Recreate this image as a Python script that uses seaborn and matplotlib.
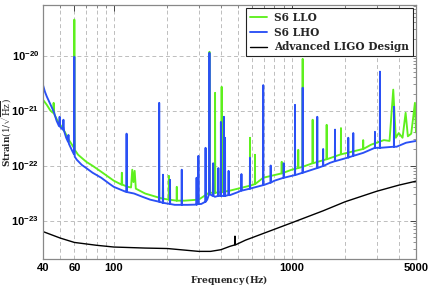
import numpy as np
import pandas as pd
import seaborn as sns
import matplotlib
matplotlib.use("Agg")
import matplotlib.pyplot as plt
from matplotlib.ticker import FixedLocator, NullFormatter, LogLocator

# -------------------------------
# Data
# -------------------------------
lho_freq = [40, 41, 42, 44, 46, 47.7, 49.2, 49.6, 50.0, 51.7, 52.1, 52.5, 54,
            55.3, 55.6, 55.9, 58, 59.7, 60.0, 60.3, 62, 66, 70, 76, 85, 95, 100,
            110, 117.6, 118, 118.4, 130, 145, 160, 179.5, 180, 180.5,
            188.5, 189, 189.5, 206.5, 207, 207.5, 220, 240.5, 241, 241.5, 260,
            291.5, 292, 292.5, 298.5, 299, 299.5, 310, 327.5, 328, 328.5, 335,
            343, 345, 347, 360, 362, 364, 370, 385, 387, 389, 399.5, 400, 401,
            415.5, 416, 417, 421.5, 422, 423, 440, 442, 444,
            450, 500, 520, 522, 524, 582, 583, 584, 600, 690, 692, 694, 760, 762, 764,
            800, 900, 902, 904, 1000,
            1042, 1044, 1046, 1151, 1153, 1155, 1200, 1390, 1393, 1396, 1500, 1503, 1506,
            1642, 1749, 1752, 1755, 2078, 2081, 2084, 2217, 2220, 2223, 2524,
            2935, 2939, 2943, 3130, 3135, 3140, 3755, 3760, 3765, 3891, 4400, 5000]
lho_strain = [2.9e-21, 2.2e-21, 1.8e-21, 1.3e-21, 9.5e-22, 6.5e-22, 5.2e-22, 7.7e-22, 5.0e-22,
              4.5e-22, 6.8e-22, 4.3e-22, 3.2e-22, 2.7e-22, 3.6e-22, 2.5e-22, 1.93e-22,
              1.6e-22, 9.5e-21, 1.45e-22, 1.27e-22, 1.03e-22, 9.0e-23, 7.4e-23, 6.0e-23,
              4.6e-23, 4.1e-23, 3.6e-23, 3.3e-23, 3.8e-22, 3.3e-23, 3.1e-23, 2.7e-23,
              2.4e-23, 2.2e-23, 1.38e-21, 2.2e-23, 2.1e-23, 6.8e-23, 2.1e-23,
              2.0e-23, 5.5e-23, 2.0e-23, 1.93e-23, 1.93e-23, 8.4e-23, 1.93e-23, 1.93e-23,
              1.95e-23, 6.0e-23, 1.95e-23, 2.0e-23, 1.5e-22, 2.0e-23, 2.0e-23,
              2.2e-23, 2.1e-22, 2.2e-23, 2.4e-23, 3.0e-23, 1.12e-20, 3.0e-23, 2.8e-23,
              1.1e-22, 2.8e-23, 2.7e-23, 2.8e-23, 9.0e-23, 2.8e-23,
              2.8e-23, 6.2e-22, 2.8e-23, 2.8e-23, 7.7e-22, 2.8e-23, 2.8e-23, 3.2e-22, 2.8e-23,
              2.9e-23, 8.0e-23, 2.9e-23,
              2.9e-23, 3.3e-23, 3.5e-23, 7.0e-23, 3.5e-23, 3.8e-23, 1.38e-22, 3.8e-23, 3.9e-23,
              4.4e-23, 2.9e-21, 4.4e-23, 4.9e-23, 1.0e-22, 4.9e-23,
              5.3e-23, 6.0e-23, 1.1e-22, 6.0e-23, 6.5e-23, 6.7e-23, 1.27e-21, 6.7e-23,
              7.4e-23, 2.6e-21, 7.4e-23,
              7.7e-23, 9.0e-23, 7.7e-22, 9.0e-23, 9.8e-23, 2.0e-22, 9.8e-23,
              1.12e-22, 1.2e-22, 4.5e-22, 1.2e-22,
              1.4e-22, 3.2e-22, 1.4e-22, 1.5e-22, 3.9e-22, 1.5e-22, 1.7e-22,
              2.1e-22, 4.1e-22, 2.1e-22, 2.1e-22, 5.1e-21, 2.1e-22, 2.2e-22, 1.17e-21, 2.2e-22,
              2.2e-22, 2.6e-22, 2.8e-22]

llo_freq = [40, 42, 44, 45.5, 45.9, 46.3, 48, 50, 53, 56, 59.7, 60.0, 60.3, 63, 70,
            76, 85, 100, 110.5, 111, 111.5, 120, 125, 127, 129, 131, 133, 150, 180,
            188.5, 189, 189.5, 203.5, 204, 204.5, 225.5, 226, 226.5, 250, 300,
            343, 345, 347, 370, 371, 372, 403, 404, 405, 450, 582, 583, 584,
            621, 622, 623, 692, 877, 879, 881, 1000, 1087, 1089, 1091,
            1151, 1153, 1155, 1309, 1312, 1315, 1570, 1573, 1576, 1890, 1893, 1896,
            2520, 2524, 2528, 2800, 3300, 3550, 3724, 3850, 4000, 4200, 4371, 4500,
            4700, 4932, 5000]
llo_strain = [1.57e-21, 1.27e-21, 1.0e-21, 9.1e-22, 1.38e-21, 8.5e-22, 6.8e-22, 5.5e-22,
              4.1e-22, 2.9e-22, 2.1e-22, 4.5e-20, 1.93e-22, 1.57e-22, 1.17e-22,
              9.9e-23, 7.7e-23, 5.3e-23, 4.5e-23, 7.4e-23, 4.5e-23, 4.1e-23, 4.0e-23,
              8.4e-23, 5.0e-23, 8.0e-23, 3.8e-23, 3.1e-23, 2.6e-23,
              2.5e-23, 6.8e-23, 2.5e-23, 2.4e-23, 6.5e-23, 2.4e-23, 2.3e-23, 4.1e-23, 2.3e-23,
              2.3e-23, 2.4e-23, 3.2e-23, 1.17e-20, 3.2e-23, 3.2e-23, 2.1e-21, 3.2e-23,
              3.3e-23, 2.7e-21, 3.3e-23, 3.5e-23, 4.3e-23, 3.2e-22, 4.3e-23,
              4.6e-23, 1.57e-22, 4.6e-23, 6.0e-23, 7.2e-23, 1.17e-22, 7.2e-23, 8.4e-23,
              9.0e-23, 1.93e-22, 9.0e-23, 9.5e-23, 8.7e-21, 9.5e-23, 1.1e-22, 6.8e-22, 1.1e-22,
              1.3e-22, 5.5e-22, 1.3e-22, 1.6e-22, 4.8e-22, 1.6e-22, 2.0e-22, 2.9e-22, 2.0e-22,
              2.4e-22, 2.9e-22, 2.8e-22, 2.4e-21, 3.2e-22, 3.9e-22, 3.2e-22, 9.1e-22, 3.4e-22,
              3.8e-22, 1.38e-21, 4.0e-22]

aligo_freq = [40, 50, 60, 80, 100, 150, 200, 300, 350, 400, 450, 478, 480, 482,
              550, 700, 1000, 1500, 2000, 3000, 4000, 5000]
aligo_strain = [6.3e-24, 4.8e-24, 4.0e-24, 3.55e-24, 3.3e-24, 3.16e-24, 3.1e-24, 2.75e-24,
                2.75e-24, 2.95e-24, 3.4e-24, 3.6e-24, 5.2e-24, 3.6e-24,
                4.4e-24, 5.9e-24, 9.1e-24, 1.5e-23, 2.2e-23, 3.4e-23, 4.4e-23, 5.2e-23]

labels = ["S6 LLO", "S6 LHO", "Advanced LIGO Design"]
colors = ["#5ef01e", "#2a50f5", "black"]

x_major = [40, 60, 100, 1000, 5000]
x_minor = [50, 70, 80, 90, 200, 300, 400, 500, 600, 700, 800, 900, 2000, 3000, 4000]
y_major = [1e-23, 1e-22, 1e-21, 1e-20]
y_labels = [r"$\mathbf{10^{-23}}$", r"$\mathbf{10^{-22}}$", r"$\mathbf{10^{-21}}$", r"$\mathbf{10^{-20}}$"]

# -------------------------------
# Style
# -------------------------------
sns.set_style("white")
plt.rcParams["mathtext.fontset"] = "custom"
plt.rcParams["mathtext.rm"] = "DejaVu Serif"
plt.rcParams["mathtext.it"] = "DejaVu Serif:italic"
plt.rcParams["mathtext.bf"] = "Liberation Sans:bold"

fig = plt.figure(figsize=(4.31, 2.87), dpi=100)
ax = fig.add_axes([0.0998, 0.0976, 0.8654, 0.885])

series = [(llo_freq, llo_strain), (lho_freq, lho_strain), (aligo_freq, aligo_strain)]
widths = [1.35, 1.35, 1.0]
for (f, s), lab, c, w in zip(series, labels, colors, widths):
    df = pd.DataFrame({"freq": f, "strain": s})
    sns.lineplot(data=df, x="freq", y="strain", ax=ax, color=c, lw=w, label=lab,
                 estimator=None, sort=False)

ax.set_xscale("log")
ax.set_yscale("log")
ax.set_xlim(40, 5000)
ax.set_ylim(2.0e-24, 8.3e-20)

ax.xaxis.set_major_locator(FixedLocator(x_major))
ax.set_xticklabels([str(v) for v in x_major])
ax.xaxis.set_minor_locator(FixedLocator(x_minor))
ax.xaxis.set_minor_formatter(NullFormatter())
ax.yaxis.set_major_locator(FixedLocator(y_major))
ax.set_yticklabels(y_labels)
ax.yaxis.set_minor_locator(LogLocator(base=10, subs=np.arange(2, 10)))
ax.yaxis.set_minor_formatter(NullFormatter())

for lab in ax.get_xticklabels():
    lab.set_fontfamily("Liberation Sans")
    lab.set_fontweight("bold")
ax.tick_params(axis="both", which="major", direction="in", length=4, width=0.7,
               colors="#444444", labelcolor="black", labelsize=8, top=True, right=True, pad=3)
ax.tick_params(axis="both", which="minor", direction="in", length=2, width=0.5,
               colors="#666666", top=True, right=True)

ax.grid(True, which="both", axis="x", ls=(0, (4, 3)), color="#bdbdbd", lw=0.7)
ax.grid(True, which="major", axis="y", ls=(0, (4, 3)), color="#bdbdbd", lw=0.7)
for sp in ax.spines.values():
    sp.set_color("#888888")
    sp.set_linewidth(0.9)

ax.set_xlabel(r"Frequency$\,$(Hz)", fontfamily="DejaVu Serif", fontweight="bold", fontsize=6.6)
ax.set_ylabel(r"Strain$(1/\sqrt{\mathrm{Hz}})$", fontfamily="DejaVu Serif", fontweight="bold",
              fontsize=6.4)
ax.xaxis.set_label_coords(0.5, -0.056)
ax.yaxis.set_label_coords(-0.078, 0.5)

leg = ax.legend(loc="upper right", fancybox=False, framealpha=1, edgecolor="#222222",
                borderaxespad=0.3, handlelength=1.6, handletextpad=0.7, labelspacing=0.35,
                borderpad=0.35, prop={"family": "DejaVu Serif", "weight": "bold", "size": 7.6})
leg.get_frame().set_linewidth(0.8)

fig.savefig("out.png", dpi=100)
